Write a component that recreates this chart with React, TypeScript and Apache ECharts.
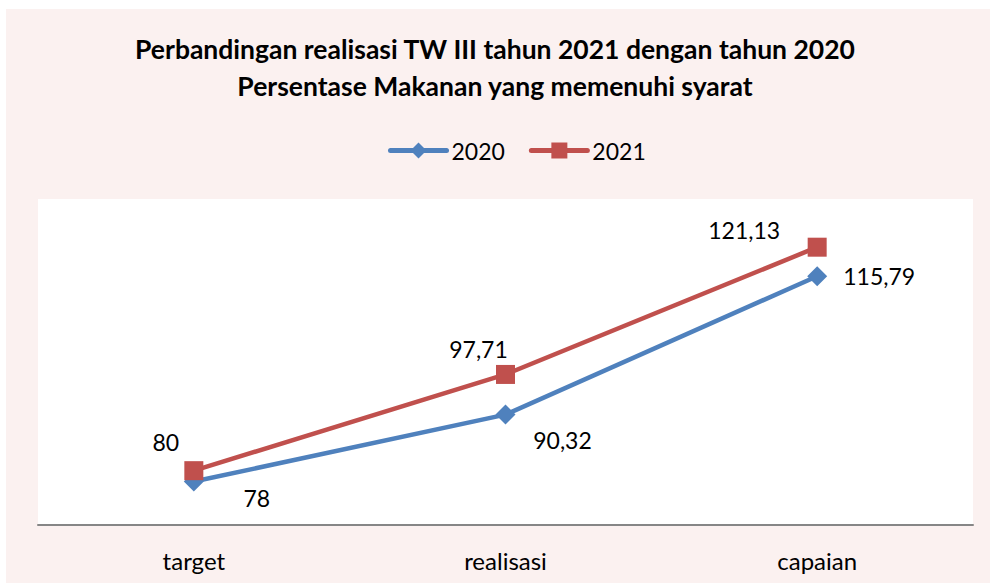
import React, { useEffect, useRef } from "react";
import * as echarts from "echarts";

const categories = ["target", "realisasi", "capaian"];
const series2020 = [78, 90.32, 115.79];
const series2021 = [80, 97.71, 121.13];
const seriesNames = ["2020", "2021"];
const titleLines = [
  "Perbandingan realisasi TW III tahun 2021 dengan tahun 2020",
  "Persentase Makanan yang memenuhi syarat",
];

// label placement offsets (style only)
const offsets2020 = [[63, 16], [57, 25], [62, 0]];
const offsets2021 = [[-28, -29], [-27, -25], [-73, -17]];

const FONT = "Lato, 'Open Sans', sans-serif";

const fmt = (v: number) => String(v).replace(".", ",");

export default function App() {
  const ref = useRef<HTMLDivElement>(null);
  useEffect(() => {
    if (!ref.current) return;
    const chart = echarts.init(ref.current, undefined, { renderer: "svg" });
    const mk = (vals: number[], offs: number[][]) =>
      vals.map((v, i) => ({
        value: v,
        label: { offset: offs[i] },
      }));
    const labelBase = {
      show: true,
      position: "inside",
      align: "center",
      verticalAlign: "middle",
      color: "#000",
      fontFamily: FONT,
      fontSize: 23,
      formatter: (p: any) => fmt(p.value),
    };
    chart.setOption({
      animation: false,
      backgroundColor: "#ffffff",
      graphic: [
        {
          type: "rect",
          z: -10,
          shape: { x: 6, y: 9, width: 990, height: 583 },
          style: { fill: "#FBF1F0" },
          silent: true,
        },
      ],
      title: {
        text: titleLines.join("\n"),
        left: "center",
        top: 25,
        textStyle: {
          fontFamily: FONT,
          fontWeight: "bold",
          fontSize: 26.5,
          lineHeight: 37,
          color: "#000",
        },
      },
      legend: {
        top: 134,
        left: 383,
        itemWidth: 56,
        itemHeight: 20,
        itemGap: 24,
        lineStyle: { width: 5, cap: "round" },
        textStyle: { fontFamily: FONT, fontSize: 23, color: "#000" },
        data: seriesNames,
      },
      grid: {
        left: 38,
        right: 17,
        top: 199,
        bottom: 58,
        show: true,
        backgroundColor: "#ffffff",
        borderWidth: 0,
      },
      xAxis: {
        type: "category",
        data: categories,
        axisLine: { lineStyle: { color: "#868686", width: 2 } },
        axisTick: { show: false },
        axisLabel: {
          margin: 23,
          fontFamily: FONT,
          fontSize: 24,
          color: "#000",
        },
      },
      yAxis: {
        type: "value",
        min: 70,
        max: 130,
        interval: 10,
        show: false,
        splitLine: { show: false },
      },
      series: [
        {
          name: seriesNames[0],
          type: "line",
          data: mk(series2020, offsets2020),
          symbol: "diamond",
          symbolSize: 20,
          color: "#4F81BD",
          lineStyle: { width: 4.5, color: "#4F81BD" },
          itemStyle: { color: "#4F81BD" },
          label: labelBase,
          z: 2,
        },
        {
          name: seriesNames[1],
          type: "line",
          data: mk(series2021, offsets2021),
          symbol: "rect",
          symbolSize: 19,
          color: "#C0504D",
          lineStyle: { width: 4.5, color: "#C0504D" },
          itemStyle: { color: "#C0504D" },
          label: labelBase,
          z: 3,
        },
      ],
    });
    return () => chart.dispose();
  }, []);
  return (
    <div
      ref={ref}
      style={{ position: "fixed", left: 0, top: 0, width: 990, height: 583 }}
    />
  );
}
